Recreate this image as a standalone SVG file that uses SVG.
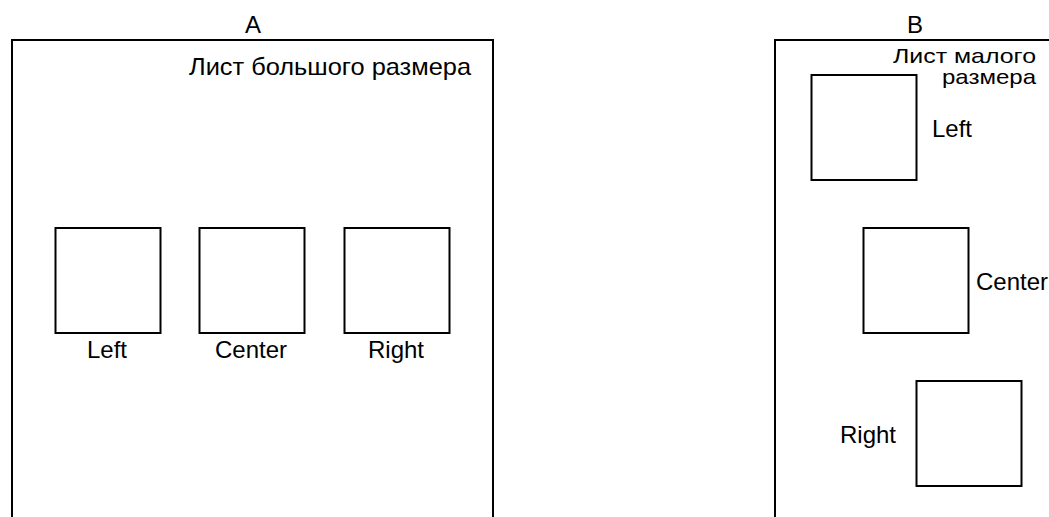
<svg xmlns="http://www.w3.org/2000/svg" width="1049" height="517" viewBox="0 0 1049 517">
<style>
.sheet{fill:none;stroke:#000;stroke-width:2}
.box{fill:#fff;stroke:#000;stroke-width:2}
text{font-family:"Liberation Sans",Arial,sans-serif;font-size:24px;fill:#000}
.c{text-anchor:middle}
.s{font-size:21px}
</style>
<rect width="1049" height="517" fill="#fff"/>
<g id="sheetA">
<text class="c" x="253" y="33">A</text>
<path class="sheet" d="M12,530 V40 H493 V530"/>
<text x="189" y="75" textLength="282" lengthAdjust="spacingAndGlyphs">Лист большого размера</text>
</g>
<g id="A-left"><rect class="box" x="55.5" y="228" width="105" height="105"/><text class="c" x="107" y="358">Left</text></g>
<g id="A-center"><rect class="box" x="199.5" y="228" width="105" height="105"/><text class="c" x="251" y="358">Center</text></g>
<g id="A-right"><rect class="box" x="344.5" y="228" width="105" height="105"/><text class="c" x="396" y="358">Right</text></g>
<g id="sheetB">
<text class="c" x="915" y="33">B</text>
<path class="sheet" d="M775,530 V40 H1060"/>
<text class="s" x="893" y="63" textLength="143" lengthAdjust="spacingAndGlyphs">Лист малого</text>
<text class="s" x="942" y="84" textLength="94" lengthAdjust="spacingAndGlyphs">размера</text>
</g>
<g id="B-left"><rect class="box" x="811.5" y="75" width="105" height="105"/><text x="932" y="137">Left</text></g>
<g id="B-center"><rect class="box" x="863.5" y="228" width="105" height="105"/><text x="976" y="290">Center</text></g>
<g id="B-right"><rect class="box" x="916.5" y="381" width="105" height="105"/><text x="840" y="443">Right</text></g>
<g id="connectors"/>
</svg>
